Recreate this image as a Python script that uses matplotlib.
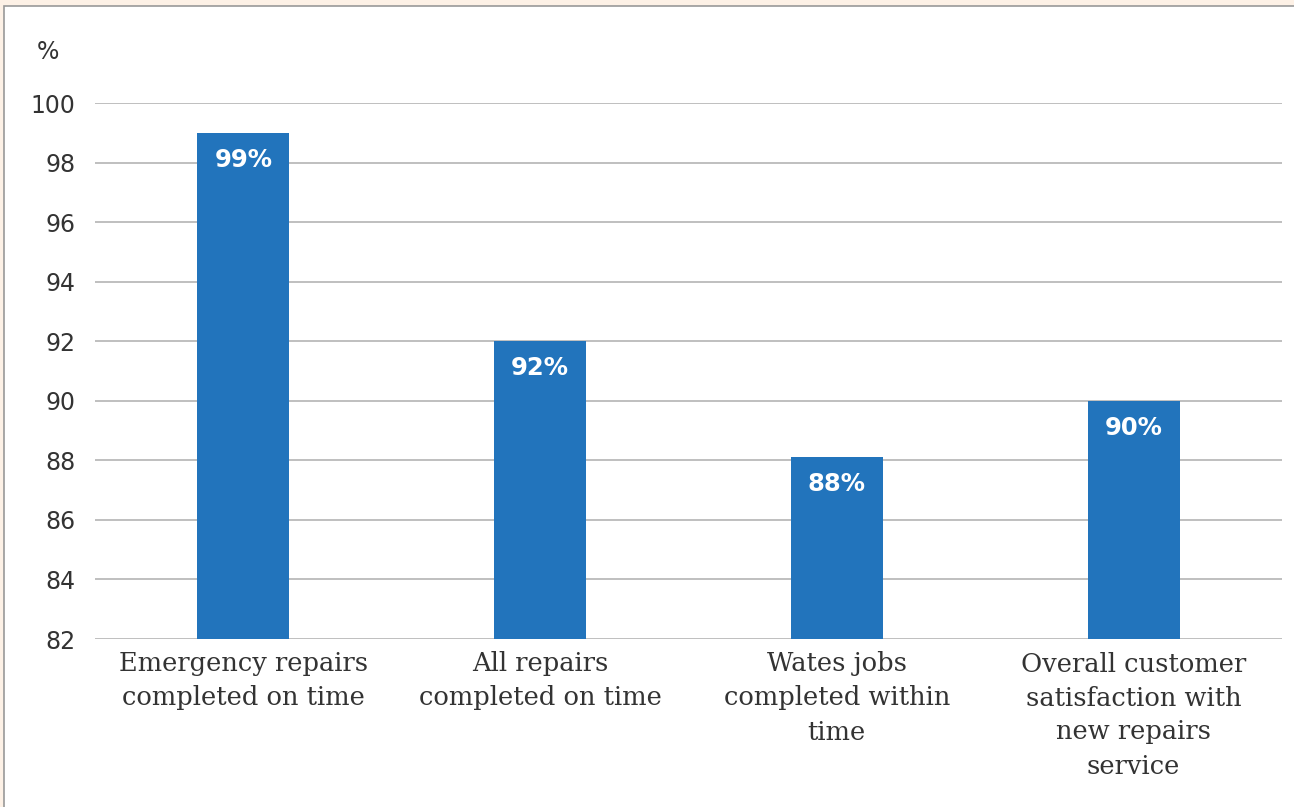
import matplotlib.pyplot as plt
from matplotlib.patches import Rectangle

categories = ['Emergency repairs\ncompleted on time',
              'All repairs\ncompleted on time',
              'Wates jobs\ncompleted within\ntime',
              'Overall customer\nsatisfaction with\nnew repairs\nservice']
values = [99, 92, 88.1, 90]
bar_labels = ['99%', '92%', '88%', '90%']
yticks = [82, 84, 86, 88, 90, 92, 94, 96, 98, 100]

fig = plt.figure(figsize=(12.94, 8.07), dpi=100)
fig.patch.set_facecolor('#fdf1e6')

# white panel with grey border on top / left
panel = Rectangle((4 / 1294, -0.01), 1.1, 1 - 6 / 807 + 0.01, transform=fig.transFigure,
                  facecolor='white', edgecolor='#999999', linewidth=1.2, zorder=-5)
fig.patches.append(panel)

ax = fig.add_axes([95 / 1294, 1 - 639 / 807, (1282 - 95) / 1294, (639 - 103) / 807])
ax.set_facecolor('none')
ax.set_zorder(2)

x = range(len(categories))
ax.bar(x, [v - 82 for v in values], bottom=82, width=0.31, color='#2274bc', zorder=3)

for i, (v, lab) in enumerate(zip(values, bar_labels)):
    ax.annotate(lab, (i, v), xytext=(0, -19.5), textcoords='offset points',
                ha='center', va='center', color='white', fontsize=17.5,
                fontweight='bold', family='DejaVu Sans')

ax.set_ylim(82, 100)
ax.set_xlim(-0.5, len(categories) - 0.5)
ax.set_yticks(yticks)
ax.set_yticklabels([str(t) for t in yticks], family='DejaVu Sans', fontsize=17, color='#333333')
ax.set_xticks(list(x))
ax.set_xticklabels(categories, family='DejaVu Serif', fontsize=18.5, color='#333333',
                   linespacing=1.45, va='top')
ax.tick_params(axis='both', length=0)
ax.tick_params(axis='y', pad=14)
ax.tick_params(axis='x', pad=9)
ax.grid(axis='y', color='#b4b4b4', linewidth=1.2, zorder=0)
for s in ax.spines.values():
    s.set_visible(False)

fig.text(48 / 1294, 1 - 52 / 807, '%', ha='center', va='center',
         family='DejaVu Sans', fontsize=17, color='#333333')

fig.savefig('out.png', dpi=100, facecolor=fig.get_facecolor())
